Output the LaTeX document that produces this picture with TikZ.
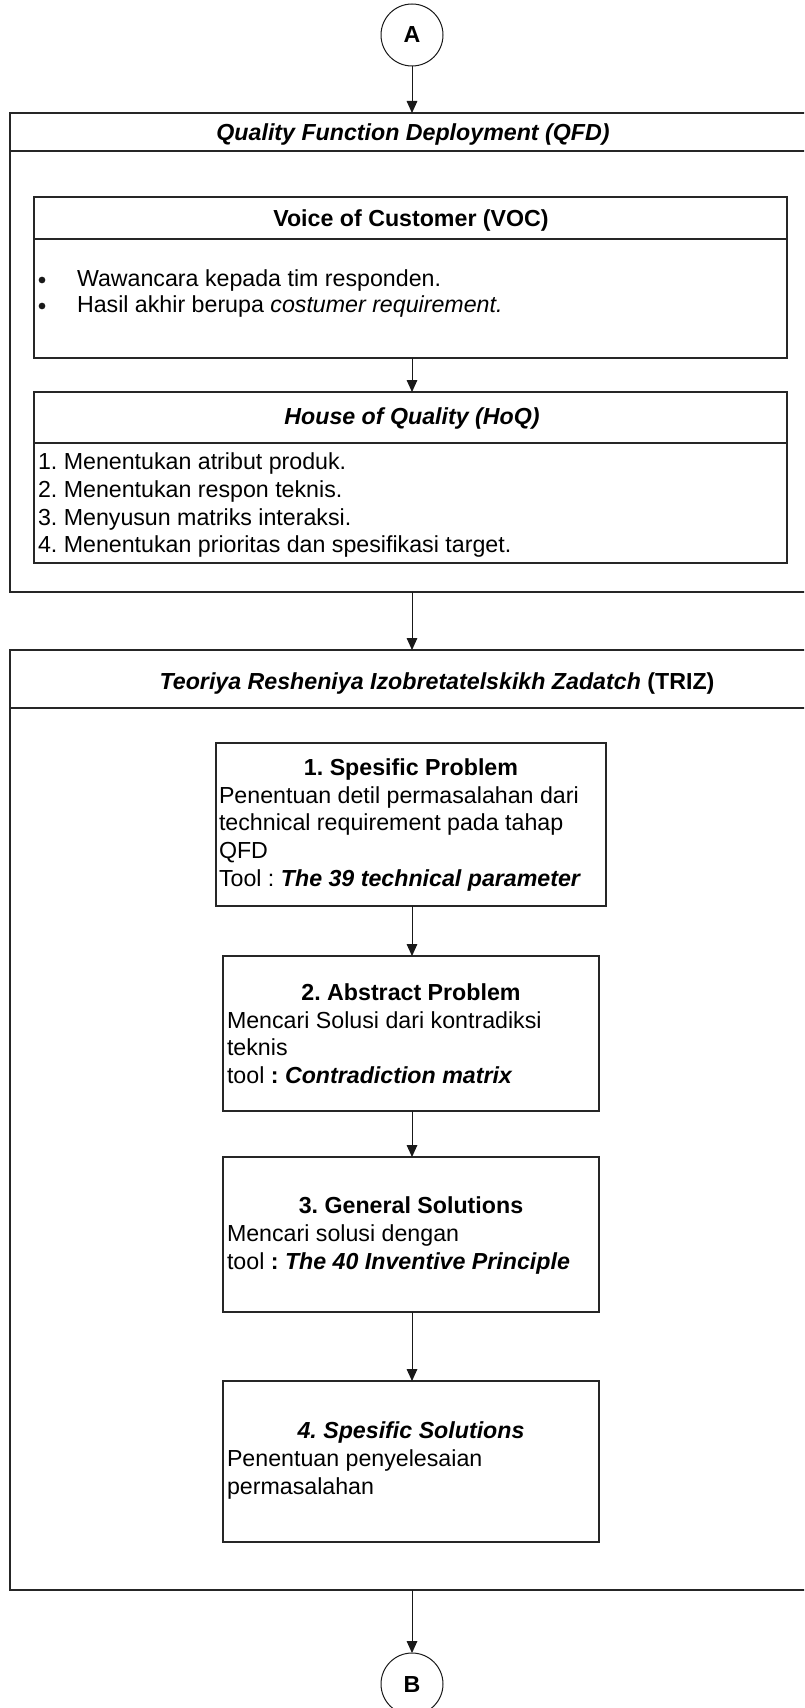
\documentclass[tikz,border=0pt]{standalone}
\usepackage{fontspec}
\setmainfont{Liberation Sans}
\usetikzlibrary{arrows.meta,fit}
\frenchspacing
\begin{document}
\frenchspacing
\begin{tikzpicture}[x=0.75pt,y=-0.75pt,
  every node/.style={inner sep=0pt,outer sep=0pt,font=\fontsize{17.4pt}{20.9pt}\selectfont},
  frame/.style={draw=black!85,line width=0.8pt},
  rule/.style={draw=black!85,line width=0.8pt},
  arr/.style={draw=black!90,line width=0.75pt,-{Triangle[length=9pt,width=8pt]}},
  conn/.style={circle,draw=black!90,line width=0.75pt,minimum size=46.5pt,font=\fontsize{17.4pt}{20.9pt}\selectfont\bfseries},
  ttl/.style={anchor=base},
  txt/.style={anchor=base west},
  bul/.style={circle,fill=black!90,minimum size=5pt}
]
\clip (0,0) rectangle (804,1708);
\fill[white] (0,0) rectangle (804,1708);

% connectors A and B
\node[conn] (A) at (412,35) {A};
\node[conn] (B) at (412,1684) {B};

% QFD frame
\node[frame,fit={(10,113) (830,592)},inner sep=0pt] (qfd) {};
\draw[rule] (10,151) -- (830,151);
\node[ttl,font=\fontsize{17.4pt}{20.9pt}\selectfont\bfseries\itshape] (qfdt) at (413,141) {Quality Function Deployment (QFD)};

% VOC
\node[frame,fit={(34,197) (787,358)},inner sep=0pt] (voc) {};
\draw[rule] (34,239) -- (787,239);
\node[ttl,font=\fontsize{17.4pt}{20.9pt}\selectfont\bfseries] (voct) at (411,227) {Voice of Customer (VOC)};
\node[bul] (vb1) at (42,280) {};
\node[bul] (vb2) at (42,306) {};
\node[txt] (v1) at (77,287) {Wawancara kepada tim responden.};
\node[txt] (v2) at (77,313) {Hasil akhir berupa \textit{costumer requirement.}};

% HoQ
\node[frame,fit={(34,392) (787,563)},inner sep=0pt] (hoq) {};
\draw[rule] (34,443) -- (787,443);
\node[ttl,font=\fontsize{17.4pt}{20.9pt}\selectfont\bfseries\itshape] (hoqt) at (412,424) {House of Quality (HoQ)};
\node[txt] (h1) at (38,469) {1. Menentukan atribut produk.};
\node[txt] (h2) at (38,497) {2. Menentukan respon teknis.};
\node[txt] (h3) at (38,525) {3. Menyusun matriks interaksi.};
\node[txt] (h4) at (38,552) {4. Menentukan prioritas dan spesifikasi target.};

% TRIZ frame
\node[frame,fit={(10,650) (830,1590)},inner sep=0pt] (triz) {};
\draw[rule] (10,708) -- (830,708);
\node[ttl] (trizt) at (437,689) {\textbf{\textit{Teoriya Resheniya Izobretatelskikh Zadatch}} \textbf{(TRIZ)}};

% Box 1
\node[frame,fit={(216,743) (606,906)},inner sep=0pt] (b1) {};
\node[ttl,font=\fontsize{17.4pt}{20.9pt}\selectfont\bfseries] (b1t) at (411,775) {1. Spesific Problem};
\node[txt] (b1a) at (219,803) {Penentuan detil permasalahan dari};
\node[txt] (b1b) at (219,830) {technical requirement pada tahap};
\node[txt] (b1c) at (219,858) {QFD};
\node[txt] (b1d) at (219,886) {Tool : \textbf{\textit{The 39 technical parameter}}};

% Box 2
\node[frame,fit={(223,956) (599,1111)},inner sep=0pt] (b2) {};
\node[ttl,font=\fontsize{17.4pt}{20.9pt}\selectfont\bfseries] (b2t) at (411,1000) {2. Abstract Problem};
\node[txt] (b2a) at (227,1028) {Mencari Solusi dari kontradiksi};
\node[txt] (b2b) at (227,1055) {teknis};
\node[txt] (b2c) at (227,1083) {tool \textbf{: \textit{Contradiction matrix}}};

% Box 3
\node[frame,fit={(223,1157) (599,1312)},inner sep=0pt] (b3) {};
\node[ttl,font=\fontsize{17.4pt}{20.9pt}\selectfont\bfseries] (b3t) at (411,1213) {3. General Solutions};
\node[txt] (b3a) at (227,1241) {Mencari solusi dengan};
\node[txt] (b3b) at (227,1269) {tool \textbf{: \textit{The 40 Inventive Principle}}};

% Box 4
\node[frame,fit={(223,1381) (599,1542)},inner sep=0pt] (b4) {};
\node[ttl,font=\fontsize{17.4pt}{20.9pt}\selectfont\bfseries\itshape] (b4t) at (411,1438) {4. Spesific Solutions};
\node[txt] (b4a) at (227,1466) {Penentuan penyelesaian};
\node[txt] (b4b) at (227,1494) {permasalahan};

% arrows
\draw[arr] (A.south) -- (A.south |- qfd.north);
\draw[arr] (A |- voc.south) -- (A |- hoq.north);
\draw[arr] (A |- qfd.south) -- (A |- triz.north);
\draw[arr] (A |- b1.south) -- (A |- b2.north);
\draw[arr] (A |- b2.south) -- (A |- b3.north);
\draw[arr] (A |- b3.south) -- (A |- b4.north);
\draw[arr] (B |- triz.south) -- (B.north);
\end{tikzpicture}
\end{document}
